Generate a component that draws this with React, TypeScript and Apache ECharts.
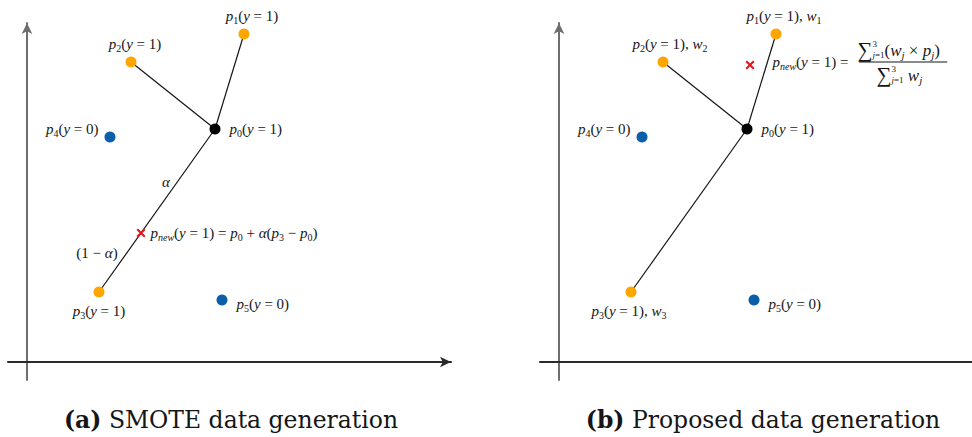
import React, { useEffect, useRef } from "react";
import * as echarts from "echarts";

// Sample points: p0 is the seed sample, p1..p3 its minority-class neighbours, p4/p5 the majority class
const pointIds = [0, 1, 2, 3, 4, 5];
const pointX = [9.4, 10.85, 5.2, 3.6, 4.15, 9.75];
const pointY = [11.65, 16.4, 15.0, 3.5, 11.25, 3.1];
const pointClass = [1, 1, 1, 1, 0, 0];
const neighbourIds = [1, 2, 3];
// Synthetic samples: SMOTE interpolation (panel a) and weighted average (panel b)
const smotePoint = [5.7, 6.45];
const weightedPoint = [9.55, 14.85];
const captionTags = ["(a)", "(b)"];
const captionTexts = ["SMOTE data generation", "Proposed data generation"];

const FONT = "'Liberation Serif', 'DejaVu Serif', serif";
const CAPTION_FONT = "'DejaVu Serif', 'Liberation Serif', serif";
const INK = "#161616";
const MINOR = "#FFA500";
const MAJOR = "#0B5EA8";
const SEED = "#000000";
const CROSS = "#E3141B";

const PREFIX_W = 85;
const BAR_W = 88;

// math-like rich styles for a given line height; suffix keeps per-line variants apart
function mathStyles(suffix: string, lh: number, size = 15) {
  const sub = Math.round(size * 0.67);
  const base = { fontFamily: FONT, color: INK, lineHeight: lh, textBorderWidth: 0 };
  return {
    ["n" + suffix]: { ...base, fontSize: size },
    ["i" + suffix]: { ...base, fontSize: size, fontStyle: "italic" },
    ["s" + suffix]: { ...base, fontSize: sub, padding: [9, 0, 0, 0] },
    ["si" + suffix]: { ...base, fontSize: sub, fontStyle: "italic", padding: [9, 0, 0, 0] },
    // summation limits: upper limit has no width so the lower one stacks under it
    ["hi" + suffix]: { ...base, fontSize: 9, width: 0.001, padding: [0, 0, 13, 0] },
    ["lo" + suffix]: { ...base, fontSize: 9, padding: [10, 0, 0, 0] },
    ["loi" + suffix]: { ...base, fontSize: 9, fontStyle: "italic", padding: [10, 0, 0, 0] },
    ["sum" + suffix]: { ...base, fontSize: size + 4 },
  };
}

const rich: Record<string, any> = {
  ...mathStyles("", 20),
  ...mathStyles("1", 20, 17),
  ...mathStyles("2", 4),
  ...mathStyles("3", 22, 17),
  sp1: { fontSize: 1, width: PREFIX_W, lineHeight: 20 },
  sp3: { fontSize: 1, width: PREFIX_W + 19, lineHeight: 22 },
  gap: { fontSize: 1, width: 7, lineHeight: 4 },
  bar: { fontSize: 1, width: BAR_W, height: 1.2, lineHeight: 4, backgroundColor: INK },
  b: { fontFamily: CAPTION_FONT, color: INK, fontSize: 23.5, fontWeight: "bold" },
  c: { fontFamily: CAPTION_FONT, color: INK, fontSize: 23.5 },
};

// the graphic component hands rich styles straight to zrender, which expects fill/stroke
const graphicRich: Record<string, any> = Object.fromEntries(
  Object.entries(rich).map(([k, v]) => {
    const { color, textBorderWidth, ...rest } = v;
    return [k, { ...rest, fill: color ?? INK, stroke: "none", lineWidth: 0 }];
  })
);

function pointLabel(id: number, cls: number, weighted: boolean) {
  let t = `{i|p}{s|${id}}{n|(}{i|y}{n| = ${cls})}`;
  if (weighted) t += `{n|, }{i|w}{s|${id}}`;
  return t;
}

const smoteFormula =
  "{i|p}{si|new}{n|(}{i|y}{n| = 1) = }{i|p}{s|0}{n| + }{i|α}{n|(}{i|p}{s|3}{n| − }{i|p}{s|0}{n|)}";

const weightedFormula = [
  "{sp1| }{sum1|∑}{hi1|3}{loi1|j}{lo1|=1}{n1|(}{i1|w}{si1|j}{n1| × }{i1|p}{si1|j}{n1|)}",
  "{i2|p}{si2|new}{n2|(}{i2|y}{n2| = 1) = }{gap| }{bar| }",
  "{sp3| }{sum3|∑}{hi3|3}{loi3|j}{lo3|=1}{i3| w}{si3|j}",
].join("\n");

// label placement around each point, per panel
const placements = [
  [
    { position: "right", distance: 9, offset: [0, 0] },
    { position: "top", distance: 3, offset: [8, 0] },
    { position: "top", distance: 3, offset: [4, 0] },
    { position: "bottom", distance: 3, offset: [0, 0] },
    { position: "left", distance: 6, offset: [0, -8] },
    { position: "right", distance: 9, offset: [0, 4] },
  ],
  [
    { position: "right", distance: 9, offset: [0, 0] },
    { position: "top", distance: 3, offset: [8, 0] },
    { position: "top", distance: 3, offset: [7, 0] },
    { position: "bottom", distance: 3, offset: [-2, 0] },
    { position: "left", distance: 6, offset: [0, -8] },
    { position: "right", distance: 9, offset: [0, 4] },
  ],
];

const crossPath =
  "path://M1.6,0 L5,3.4 L8.4,0 L10,1.6 L6.6,5 L10,8.4 L8.4,10 L5,6.6 L1.6,10 L0,8.4 L3.4,5 L0,1.6 Z";

function axisLine(color: string, arrow: boolean) {
  return {
    show: true,
    onZero: true,
    symbol: arrow ? ["none", "arrow"] : "none",
    symbolSize: [8, 11],
    lineStyle: { color, width: 2 },
  };
}

const hidden = { axisTick: { show: false }, axisLabel: { show: false }, splitLine: { show: false } };

function panelSeries(g: number) {
  const seed = [pointX[0], pointY[0]];
  const newPoint = g === 0 ? smotePoint : weightedPoint;
  return [
    {
      type: "lines",
      coordinateSystem: "cartesian2d",
      xAxisIndex: g,
      yAxisIndex: g,
      z: 2,
      lineStyle: { color: "#151515", width: 1.2, opacity: 1 },
      data: neighbourIds.map((id) => ({
        coords: [seed, [pointX[id], pointY[id]]],
      })),
    },
    {
      type: "scatter",
      xAxisIndex: g,
      yAxisIndex: g,
      z: 3,
      symbolSize: 11,
      itemStyle: { opacity: 1 },
      label: { show: true, rich, color: INK, opacity: 1, textBorderWidth: 0 },
      data: pointIds.map((id, k) => ({
        value: [pointX[k], pointY[k]],
        itemStyle: { color: k === 0 ? SEED : pointClass[k] ? MINOR : MAJOR, opacity: 1 },
        label: {
          show: true,
          formatter: pointLabel(id, pointClass[k], g === 1 && neighbourIds.includes(id)),
          ...placements[g][k],
        },
      })),
    },
    {
      type: "scatter",
      xAxisIndex: g,
      yAxisIndex: g,
      z: 4,
      symbol: crossPath,
      symbolSize: 9,
      itemStyle: { color: CROSS, opacity: 1 },
      label: {
        show: true,
        rich,
        opacity: 1,
        textBorderWidth: 0,
        position: "right",
        distance: g === 0 ? 5 : 18,
        offset: g === 0 ? [0, 0] : [0, -2],
        formatter: g === 0 ? smoteFormula : weightedFormula,
      },
      data: [newPoint],
    },
  ];
}

export default function App() {
  const ref = useRef<HTMLDivElement>(null);

  useEffect(() => {
    if (!ref.current) return;
    const chart = echarts.init(ref.current, null, { renderer: "svg" });
    chart.setOption({
      animation: false,
      backgroundColor: "#ffffff",
      grid: [
        { left: 8, top: 23, width: 443, height: 357 },
        { left: 540, top: 23, width: 432, height: 357 },
      ],
      xAxis: [
        { gridIndex: 0, type: "value", min: -0.95, max: 21.2, axisLine: axisLine("#2a2a2a", true), ...hidden },
        { gridIndex: 1, type: "value", min: -0.95, max: 20.65, axisLine: axisLine("#2a2a2a", false), ...hidden },
      ],
      yAxis: [
        { gridIndex: 0, type: "value", min: -0.9, max: 16.95, axisLine: axisLine("#6e6e6e", true), ...hidden },
        { gridIndex: 1, type: "value", min: -0.9, max: 16.95, axisLine: axisLine("#6e6e6e", true), ...hidden },
      ],
      series: [...panelSeries(0), ...panelSeries(1)],
    });

    // segment annotations placed next to the midpoints of the interpolation line
    const seed = [pointX[0], pointY[0]];
    const p3 = [pointX[3], pointY[3]];
    const mid = (a: number[], b: number[]) => [(a[0] + b[0]) / 2, (a[1] + b[1]) / 2];
    const upper = chart.convertToPixel({ gridIndex: 0 }, mid(seed, smotePoint)) as number[];
    const lower = chart.convertToPixel({ gridIndex: 0 }, mid(smotePoint, p3)) as number[];
    const captionX = [
      (chart.convertToPixel({ gridIndex: 0 }, [10.2, 0]) as number[])[0],
      (chart.convertToPixel({ gridIndex: 1 }, [10.2, 0]) as number[])[0],
    ];
    const textStyle = { rich: graphicRich, fill: INK, stroke: "none", lineWidth: 0, align: "center", verticalAlign: "middle" };

    chart.setOption({
      graphic: [
        {
          type: "text",
          x: upper[0] - 12,
          y: upper[1] + 1,
          style: { ...textStyle, text: "{i|α}" },
        },
        {
          type: "text",
          x: lower[0] - 23,
          y: lower[1] - 10,
          style: { ...textStyle, text: "{n|(1 − }{i|α}{n|)}" },
        },
        ...captionTags.map((tag, k) => ({
          type: "text",
          x: captionX[k],
          y: 420,
          style: { ...textStyle, text: `{b|${tag}}{c| ${captionTexts[k]}}` },
        })),
      ],
    });

    return () => chart.dispose();
  }, []);

  return (
    <div
      ref={ref}
      style={{ position: "fixed", left: 0, top: 0, width: 972, height: 437, background: "#fff" }}
    />
  );
}
